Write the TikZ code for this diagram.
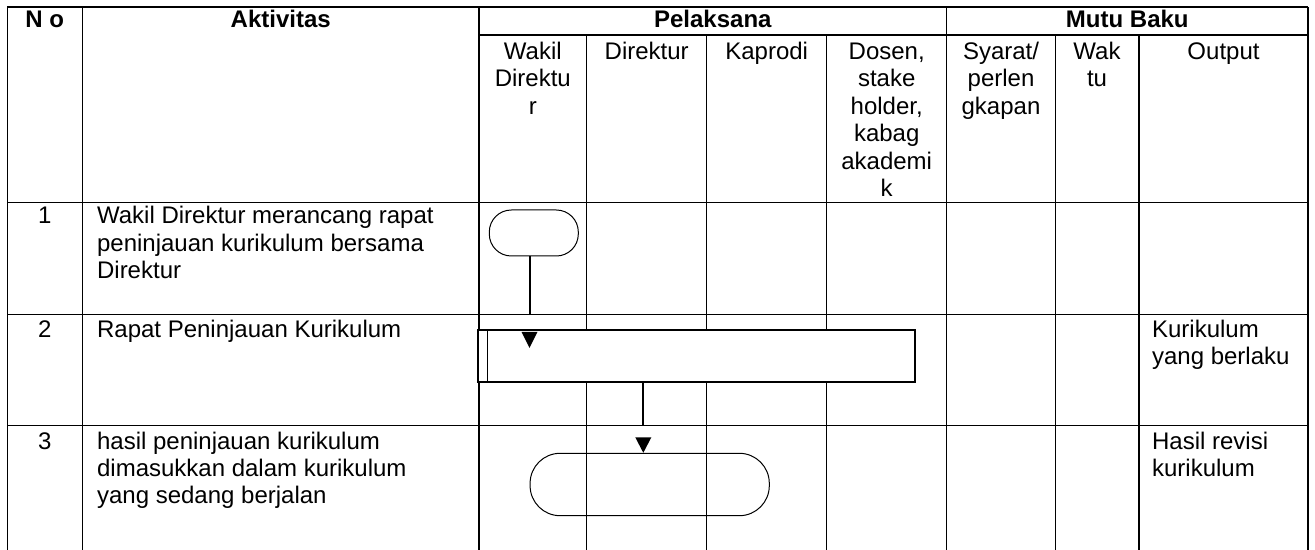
\documentclass[tikz,border=0pt]{standalone}
\usepackage{fontspec}
\setmainfont{Liberation Sans}
\tikzset{
  table line/.style={line width=0.75pt},
  flow line/.style={line width=1pt},
  cell text/.style={inner sep=0pt,anchor=base,align=center,
    font=\fontsize{12pt}{13.7pt}\selectfont},
  head text/.style={cell text,font=\fontsize{12pt}{13.7pt}\selectfont\bfseries},
  left text/.style={cell text,anchor=base west,align=left},
  start box/.style={draw,line width=0.5pt,inner sep=0pt,rounded corners=11pt,
    minimum width=44.5pt,minimum height=23pt},
  meeting box/.style={draw,fill=white,line width=0.75pt,inner sep=0pt,
    minimum width=218.5pt,minimum height=25.9pt},
  end box/.style={draw,line width=0.5pt,inner sep=0pt,rounded corners=15pt,
    minimum width=119.6pt,minimum height=31.2pt},
}
\begin{document}
\begin{tikzpicture}[x=0.5pt,y=-0.5pt]
  \useasboundingbox (0,0) rectangle (1315,550);
  \draw[table line] (7.3,7) -- (1308,7);
  \draw[table line] (479,35) -- (1308,35);
  \foreach \y in {202.3,314.7,425.7}
    \draw[table line] (7.3,\y) -- (1308,\y);
  \foreach \x in {7.3,82.3,479,946.7,1308}
    \draw[table line] (\x,7) -- (\x,550);
  \foreach \x in {586.7,706.7,826.7,1055.3,1139}
    \draw[table line] (\x,35) -- (\x,550);
  % base anchor sits on the last line of each cell
  \node[head text] (no) at (44.8,27.3) {N o};
  \node[head text] (aktivitas) at (280.7,27.3) {Aktivitas};
  \node[head text] (pelaksana) at (712.8,27.3) {Pelaksana};
  \node[head text] (mutu) at (1127.3,27.3) {Mutu Baku};
  \node[cell text] (wakil) at (532.8,114.3) {Wakil\\Direktu\\r};
  \node[cell text] (direktur) at (646.7,59.5) {Direktur};
  \node[cell text] (kaprodi) at (766.7,59.5) {Kaprodi};
  \node[cell text] (dosen) at (886.7,196.5) {Dosen,\\stake\\holder,\\kabag\\akademi\\k};
  \node[cell text] (syarat) at (1001,114.3) {Syarat/\\perlen\\gkapan};
  \node[cell text] (waktu) at (1097,86.9) {Wak\\tu};
  \node[cell text] (output) at (1223.5,59.5) {Output};
  \foreach \n/\y in {1/224,2/337,3/449}
    \node[cell text] (no\n) at (44.8,\y) {\n};
  \node[left text] (akt1) at (96.7,278.8) {Wakil Direktur merancang rapat\\peninjauan kurikulum bersama\\Direktur};
  \node[left text] (akt2) at (96.7,337) {Rapat Peninjauan Kurikulum};
  \node[left text] (akt3) at (96.7,503.8) {hasil peninjauan kurikulum\\dimasukkan dalam kurikulum\\yang sedang berjalan};
  \node[left text] (out2) at (1151.7,364.4) {Kurikulum\\yang berlaku};
  \node[left text] (out3) at (1151.7,476.4) {Hasil revisi\\kurikulum};
  \node[start box] (rancang) at (533.8,233) {};
  \node[meeting box] (rapat) at (696.5,355.9) {};
  \draw[table line] ([xshift=5pt]rapat.north west) -- ([xshift=5pt]rapat.south west);
  \node[end box] (revisi) at (649.7,484.5) {};
  \coordinate (a1) at (529.5,314.7);
  \coordinate (a2) at (643.3,425.7);
  \draw[flow line] (rancang.south -| a1) -- (a1);
  \fill ([yshift=-9.3pt]rapat.north -| a1) -- ++(-8,-16) -- ++(16,0) -- cycle;
  \draw[flow line] (rapat.south -| a2) -- (a2);
  \fill (revisi.north -| a2) -- ++(-8,-15.4) -- ++(16,0) -- cycle;
\end{tikzpicture}
\end{document}
